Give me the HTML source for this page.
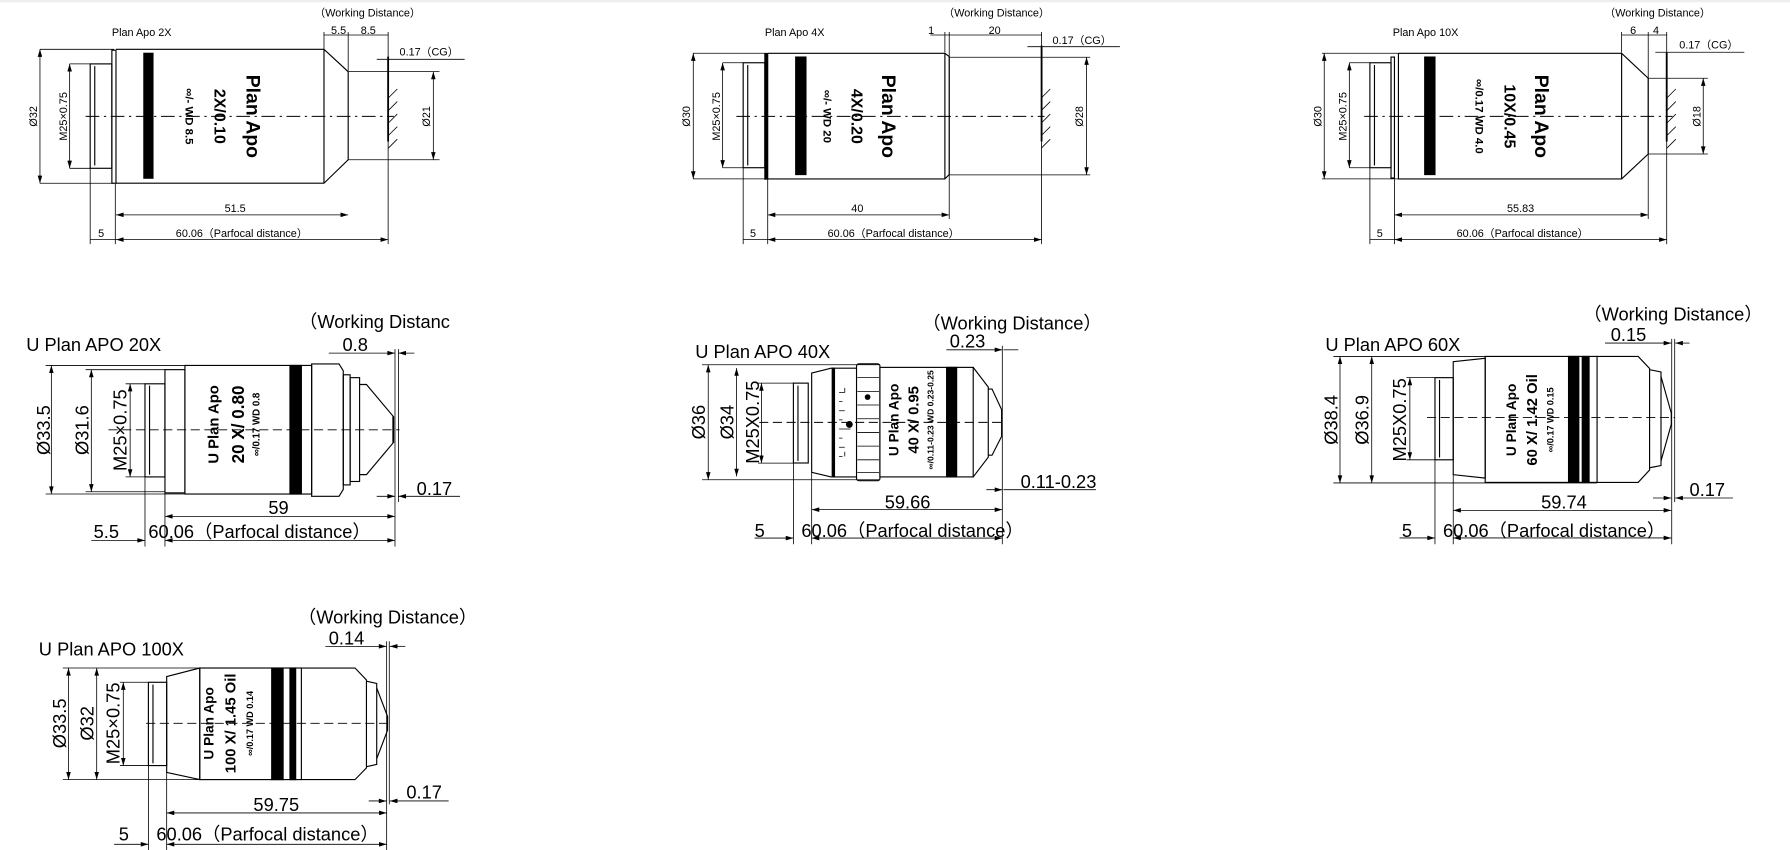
<!DOCTYPE html>
<html><head><meta charset="utf-8"><style>
html,body{margin:0;padding:0;background:#fff;}
svg{display:block;}
text{font-family:"Liberation Sans",Arial,sans-serif;fill:#000;dominant-baseline:central;}
.s{font-size:9.5px;}
.m{font-size:16px;}
.b{font-weight:bold;}
line,polyline,path,rect,polygon{stroke:#000;fill:none;stroke-width:1;}
.thin{stroke-width:0.7;}
.dash{stroke-dasharray:12 4 2 4;stroke-width:0.8;}
.dash2{stroke-dasharray:8 4;stroke-width:0.8;}
.fill{fill:#000;}
.bd{stroke-width:1.6;}
</style></head><body>
<svg width="1790" height="850" viewBox="0 0 1568 745" preserveAspectRatio="none" xmlns="http://www.w3.org/2000/svg">
<defs>
<marker id="a" viewBox="0 0 10 6" refX="10" refY="3" markerWidth="7" markerHeight="4" markerUnits="userSpaceOnUse" orient="auto-start-reverse"><path d="M0,0 L10,3 L0,6 z" style="fill:#000;stroke:none"/></marker>
</defs>
<rect x="0" y="0" width="1568" height="2" style="fill:#eee;stroke:none"/>

<!-- ============ 2X ============ -->
<g>
<text class="s" x="98" y="29">Plan Apo 2X</text>
<text class="s" x="322" y="12" text-anchor="middle">（Working Distance）</text>
<!-- body -->
<rect x="79" y="56" width="19" height="91.5"/>
<line x1="83" y1="58" x2="83" y2="145"/>
<rect x="98" y="44" width="3.6" height="116.6"/>
<polyline points="101.6,43.2 283.8,43.2 305,62.8 305,140 283.8,160.6 101.6,160.6"/>
<line x1="283.8" y1="43.2" x2="283.8" y2="160.6"/>
<rect x="126" y="46.7" width="8" height="109.5" class="fill"/>
<line x1="75" y1="102" x2="345" y2="102" class="dash"/>
<text class="b" font-size="17" transform="translate(221,102) rotate(90)" text-anchor="middle">Plan Apo</text>
<text class="b" font-size="14" transform="translate(192,102) rotate(90)" text-anchor="middle">2X/0.10</text>
<text class="b" font-size="10" transform="translate(165,102) rotate(90)" text-anchor="middle">∞/- WD 8.5</text>
<!-- cover glass -->
<line x1="340" y1="49.6" x2="340" y2="124" class="bd"/>
<path d="M340,86 l8,-8 M340,97 l8,-8 M340,108 l8,-8 M340,119 l8,-8 M340,130 l8,-8" class="thin"/>
<!-- dims -->
<path d="M35,43.2 H100 M35,160.6 H100" class="thin"/>
<line x1="35" y1="43.2" x2="35" y2="160.6" class="thin" marker-start="url(#a)" marker-end="url(#a)"/>
<text class="s" transform="translate(30,102) rotate(-90)" text-anchor="middle">Ø32</text>
<path d="M61,56 H79 M61,147.5 H79" class="thin"/>
<line x1="61" y1="56" x2="61" y2="147.5" class="thin" marker-start="url(#a)" marker-end="url(#a)"/>
<text class="s" transform="translate(56,102) rotate(-90)" text-anchor="middle">M25×0.75</text>
<path d="M305,62.8 H385 M305,140 H385" class="thin"/>
<line x1="379.6" y1="62.8" x2="379.6" y2="140" class="thin" marker-start="url(#a)" marker-end="url(#a)"/>
<text class="s" transform="translate(374,102) rotate(-90)" text-anchor="middle">Ø21</text>
<path d="M283.8,28 V43 M305,28 V62 M340,28 V214 M79,147 V214 M101,161 V214" class="thin"/>
<line x1="283.8" y1="30.7" x2="340" y2="30.7" class="thin"/>
<text class="s" x="290" y="27">5.5</text><text class="s" x="316" y="27">8.5</text>
<line x1="330" y1="52" x2="407" y2="52" class="thin"/>
<text class="s" x="350" y="46">0.17（CG）</text>
<line x1="101.6" y1="188.3" x2="305" y2="188.3" class="thin" marker-start="url(#a)" marker-end="url(#a)"/>
<text class="s" x="206" y="183" text-anchor="middle">51.5</text>
<line x1="101.6" y1="210" x2="340" y2="210" class="thin" marker-start="url(#a)" marker-end="url(#a)"/>
<line x1="79" y1="210" x2="101.6" y2="210" class="thin"/>
<text class="s" x="154" y="205">60.06（Parfocal distance）</text>
<text class="s" x="86" y="205">5</text>
</g>

<!-- ============ 4X ============ -->
<g>
<text class="s" x="670" y="29">Plan Apo 4X</text>
<text class="s" x="873" y="12" text-anchor="middle">（Working Distance）</text>
<rect x="651" y="55" width="19" height="92"/>
<line x1="655" y1="57" x2="655" y2="145"/>
<rect x="670" y="47" width="2.5" height="110" class="fill"/>
<polyline points="672.5,46.7 827.7,46.7 831.5,49.6 831.5,153 827.7,156.8 672.5,156.8"/>
<line x1="827.7" y1="46.7" x2="827.7" y2="156.8"/>
<rect x="697" y="50" width="9" height="103" class="fill"/>
<line x1="645" y1="102" x2="915" y2="102" class="dash"/>
<text class="b" font-size="17" transform="translate(778,102) rotate(90)" text-anchor="middle">Plan Apo</text>
<text class="b" font-size="14" transform="translate(750,102) rotate(90)" text-anchor="middle">4X/0.20</text>
<text class="b" font-size="10" transform="translate(724,102) rotate(90)" text-anchor="middle">∞/- WD 20</text>
<line x1="912.4" y1="40" x2="912.4" y2="124" class="bd"/>
<path d="M912,86 l8,-8 M912,97 l8,-8 M912,108 l8,-8 M912,119 l8,-8 M912,130 l8,-8" class="thin"/>
<path d="M607,46.7 H672 M607,156.8 H672" class="thin"/>
<line x1="607.3" y1="46.7" x2="607.3" y2="156.8" class="thin" marker-start="url(#a)" marker-end="url(#a)"/>
<text class="s" transform="translate(602,102) rotate(-90)" text-anchor="middle">Ø30</text>
<path d="M633,55 H651 M633,147 H651" class="thin"/>
<line x1="633" y1="55" x2="633" y2="147" class="thin" marker-start="url(#a)" marker-end="url(#a)"/>
<text class="s" transform="translate(628,102) rotate(-90)" text-anchor="middle">M25×0.75</text>
<path d="M831.5,50.2 H955 M831.5,153.3 H955" class="thin"/>
<line x1="951.8" y1="50.2" x2="951.8" y2="153.3" class="thin" marker-start="url(#a)" marker-end="url(#a)"/>
<text class="s" transform="translate(946,102) rotate(-90)" text-anchor="middle">Ø28</text>
<path d="M827.7,28 V46 M831.5,28 V192 M912.4,28 V214 M651,147 V214 M672.5,157 V214" class="thin"/>
<line x1="815" y1="30.7" x2="912.4" y2="30.7" class="thin"/>
<text class="s" x="813" y="27">1</text><text class="s" x="866" y="27">20</text>
<line x1="900" y1="40.9" x2="981" y2="40.9" class="thin"/>
<text class="s" x="922" y="36">0.17（CG）</text>
<line x1="672.5" y1="188.3" x2="831.5" y2="188.3" class="thin" marker-start="url(#a)" marker-end="url(#a)"/>
<text class="s" x="751" y="183" text-anchor="middle">40</text>
<line x1="672.5" y1="210" x2="912.4" y2="210" class="thin" marker-start="url(#a)" marker-end="url(#a)"/>
<line x1="651" y1="210" x2="672.5" y2="210" class="thin"/>
<text class="s" x="725" y="205">60.06（Parfocal distance）</text>
<text class="s" x="657" y="205">5</text>
</g>

<!-- ============ 10X ============ -->
<g>
<text class="s" x="1220" y="29">Plan Apo 10X</text>
<text class="s" x="1452" y="12" text-anchor="middle">（Working Distance）</text>
<rect x="1200" y="55" width="18.5" height="92"/>
<line x1="1204" y1="57" x2="1204" y2="145"/>
<rect x="1218.5" y="50" width="3" height="106"/>
<polyline points="1225,46.7 1420.5,46.7 1443.8,68.6 1443.8,135 1420.5,156.8 1225,156.8 1225,46.7"/>
<line x1="1420.5" y1="46.7" x2="1420.5" y2="156.8"/>
<rect x="1248" y="50" width="9" height="103" class="fill"/>
<line x1="1195" y1="102" x2="1465" y2="102" class="dash"/>
<text class="b" font-size="17" transform="translate(1350,102) rotate(90)" text-anchor="middle">Plan Apo</text>
<text class="b" font-size="14" transform="translate(1322,102) rotate(90)" text-anchor="middle">10X/0.45</text>
<text class="b" font-size="10" transform="translate(1295,102) rotate(90)" text-anchor="middle">∞/0.17 WD 4.0</text>
<line x1="1460" y1="46" x2="1460" y2="124" class="bd"/>
<path d="M1460,86 l8,-8 M1460,97 l8,-8 M1460,108 l8,-8 M1460,119 l8,-8 M1460,130 l8,-8" class="thin"/>
<path d="M1158,46.7 H1225 M1158,156.8 H1225" class="thin"/>
<line x1="1160" y1="46.7" x2="1160" y2="156.8" class="thin" marker-start="url(#a)" marker-end="url(#a)"/>
<text class="s" transform="translate(1155,102) rotate(-90)" text-anchor="middle">Ø30</text>
<path d="M1182,55 H1200 M1182,147 H1200" class="thin"/>
<line x1="1182" y1="55" x2="1182" y2="147" class="thin" marker-start="url(#a)" marker-end="url(#a)"/>
<text class="s" transform="translate(1177,102) rotate(-90)" text-anchor="middle">M25×0.75</text>
<path d="M1443.8,68.6 H1496 M1443.8,135 H1496" class="thin"/>
<line x1="1492" y1="68.6" x2="1492" y2="135" class="thin" marker-start="url(#a)" marker-end="url(#a)"/>
<text class="s" transform="translate(1487,102) rotate(-90)" text-anchor="middle">Ø18</text>
<path d="M1420.5,28 V46 M1443.8,28 V192 M1460,28 V214 M1200,147 V214 M1221.5,157 V214" class="thin"/>
<line x1="1420.5" y1="30.7" x2="1460" y2="30.7" class="thin"/>
<text class="s" x="1428" y="27">6</text><text class="s" x="1448" y="27">4</text>
<line x1="1450" y1="45.8" x2="1528" y2="45.8" class="thin"/>
<text class="s" x="1471" y="40">0.17（CG）</text>
<line x1="1221.5" y1="188.3" x2="1443.8" y2="188.3" class="thin" marker-start="url(#a)" marker-end="url(#a)"/>
<text class="s" x="1332" y="183" text-anchor="middle">55.83</text>
<line x1="1221.5" y1="210" x2="1460" y2="210" class="thin" marker-start="url(#a)" marker-end="url(#a)"/>
<line x1="1200" y1="210" x2="1221.5" y2="210" class="thin"/>
<text class="s" x="1276" y="205">60.06（Parfocal distance）</text>
<text class="s" x="1206" y="205">5</text>
</g>

<!-- ============ 20X ============ -->
<g>
<text class="m" x="23" y="302">U Plan APO 20X</text>
<text class="m" x="262" y="282">（Working Distanc</text>
<rect x="127" y="336.4" width="17.5" height="81.6"/>
<line x1="131" y1="338" x2="131" y2="416"/>
<rect x="144.5" y="324" width="17.5" height="108"/>
<rect x="162" y="320.3" width="111" height="112.7"/>
<rect x="254" y="320.3" width="10" height="112.7" class="fill"/>
<path d="M273,319 H297 L300.7,325 V429 L297,435 H273 Z"/>
<rect x="300.7" y="328.5" width="6" height="96.5"/>
<rect x="306.7" y="331" width="8.3" height="91"/>
<polyline points="315,337 321,337 344.5,365 344.5,388 321,416 315,416"/>
<line x1="95" y1="376.7" x2="350" y2="376.7" class="dash2"/>
<text class="b" font-size="13" transform="translate(188,372) rotate(-90)" text-anchor="middle">U Plan Apo</text>
<text class="b" font-size="15" transform="translate(209,372) rotate(-90)" text-anchor="middle">20 X/ 0.80</text>
<text class="b" font-size="8.5" transform="translate(225,372) rotate(-90)" text-anchor="middle">∞/0.17  WD  0.8</text>
<line x1="346" y1="306" x2="346" y2="479" class="thin"/>
<line x1="344.5" y1="365" x2="344.5" y2="388" class="bd"/>
<path d="M40,320.3 H162 M40,433 H162" class="thin"/>
<line x1="45" y1="320.3" x2="45" y2="433" class="thin" marker-start="url(#a)" marker-end="url(#a)"/>
<text class="m" transform="translate(38,377) rotate(-90)" text-anchor="middle">Ø33.5</text>
<path d="M75,324 H145" class="thin"/><path d="M75,431 H145" class="thin"/>
<line x1="80" y1="324" x2="80" y2="431" class="thin" marker-start="url(#a)" marker-end="url(#a)"/>
<text class="m" transform="translate(72,377) rotate(-90)" text-anchor="middle">Ø31.6</text>
<path d="M110,336.4 H127 M110,418 H127" class="thin"/>
<line x1="114" y1="336.4" x2="114" y2="418" class="thin" marker-start="url(#a)" marker-end="url(#a)"/>
<text class="m" transform="translate(105,377) rotate(-90)" text-anchor="middle">M25×0.75</text>
<path d="M127,418 V479 M144.5,432 V479" class="thin"/>
<line x1="288" y1="309.5" x2="346" y2="309.5" class="thin" marker-end="url(#a)"/>
<line x1="363" y1="309.5" x2="349" y2="309.5" class="thin" marker-end="url(#a)"/>
<line x1="349" y1="306" x2="349" y2="440" class="thin"/>
<text class="m" x="300" y="302">0.8</text>
<line x1="330" y1="435" x2="346" y2="435" class="thin" marker-end="url(#a)"/>
<line x1="403" y1="435" x2="349" y2="435" class="thin" marker-end="url(#a)"/>
<text class="m" x="365" y="428">0.17</text>
<line x1="144.5" y1="452.6" x2="346" y2="452.6" class="thin" marker-start="url(#a)" marker-end="url(#a)"/>
<text class="m" x="244" y="445" text-anchor="middle">59</text>
<line x1="144.5" y1="473.6" x2="346" y2="473.6" class="thin" marker-start="url(#a)" marker-end="url(#a)"/>
<line x1="80" y1="473.6" x2="127" y2="473.6" class="thin" marker-end="url(#a)"/>
<text class="m" x="82" y="466">5.5</text>
<text class="m" x="130" y="466">60.06（Parfocal distance）</text>
</g>

<!-- ============ 40X ============ -->
<g>
<text class="m" x="609" y="308">U Plan APO 40X</text>
<text class="m" x="808" y="283">（Working Distance）</text>
<rect x="695" y="335.8" width="13" height="70"/>
<line x1="699" y1="338" x2="699" y2="404"/>
<path d="M711,327 L728,322.7 H730.5 V418 H728 L711,414 Z"/>
<rect x="729" y="322.7" width="2" height="95" class="fill"/>
<path d="M731,322.7 H750.3 M731,418 H750.3" />
<path d="M735,344 h5 M735,352 h3 M735,360 h5 M735,368 h3 M735,376 h10 M735,384 h3 M735,392 h5 M735,400 h3 M740,340 v4 M740,396 v4" class="thin"/>
<circle cx="744" cy="372" r="3"/>
<rect x="750.3" y="318.9" width="20.5" height="102.4" rx="2"/>
<path d="M751,331 h19 M751,343 h19 M751,355 h19 M751,367 h19 M751,379 h19 M751,391 h19 M751,403 h19 M751,414 h19" class="thin"/>
<circle cx="760" cy="348" r="2.5"/>
<rect x="770.8" y="322" width="81.7" height="96"/>
<rect x="829.2" y="322" width="8.8" height="96" class="fill"/>
<polyline points="852.5,322 865.7,339.3 865.7,400.7 852.5,418"/>
<polyline points="865.7,341 869,341 877.4,359 877.4,382.5 869,399 865.7,399"/>
<line x1="665" y1="370.2" x2="880" y2="370.2" class="dash2"/>
<text class="b" font-size="12" transform="translate(783,368) rotate(-90)" text-anchor="middle">U Plan Apo</text>
<text class="b" font-size="13" transform="translate(801,368) rotate(-90)" text-anchor="middle">40 X/ 0.95</text>
<text class="b" font-size="7.5" transform="translate(815,368) rotate(-90)" text-anchor="middle">∞/0.11-0.23 WD 0.23-0.25</text>
<line x1="878" y1="303" x2="878" y2="477" class="thin"/>
<path d="M615,319.7 H771 M615,420.5 H771" class="thin"/>
<line x1="620.4" y1="319.7" x2="620.4" y2="420.5" class="thin" marker-start="url(#a)" marker-end="url(#a)"/>
<text class="m" transform="translate(612,370) rotate(-90)" text-anchor="middle">Ø36</text>
<line x1="645.2" y1="322.7" x2="645.2" y2="417.5" class="thin" marker-start="url(#a)" marker-end="url(#a)"/>
<text class="m" transform="translate(637,370) rotate(-90)" text-anchor="middle">Ø34</text>
<path d="M664,335.8 H695 M664,405.9 H695" class="thin"/>
<line x1="667" y1="335.8" x2="667" y2="405.9" class="thin" marker-start="url(#a)" marker-end="url(#a)"/>
<text class="m" transform="translate(659,370) rotate(-90)" text-anchor="middle">M25X0.75</text>
<path d="M695,406 V477 M711,414 V477" class="thin"/>
<line x1="829" y1="306.6" x2="878" y2="306.6" class="thin" marker-end="url(#a)"/>
<line x1="892" y1="306.6" x2="879" y2="306.6" class="thin"/>
<text class="m" x="832" y="299">0.23</text>
<line x1="864" y1="429.2" x2="878" y2="429.2" class="thin" marker-end="url(#a)"/>
<line x1="960" y1="429.2" x2="879" y2="429.2" class="thin"/>
<text class="m" x="894" y="422">0.11-0.23</text>
<line x1="711" y1="446.7" x2="878" y2="446.7" class="thin" marker-start="url(#a)" marker-end="url(#a)"/>
<text class="m" x="795" y="440" text-anchor="middle">59.66</text>
<line x1="711" y1="471.6" x2="878" y2="471.6" class="thin" marker-start="url(#a)" marker-end="url(#a)"/>
<line x1="661" y1="471.6" x2="695" y2="471.6" class="thin" marker-end="url(#a)"/>
<text class="m" x="661" y="465">5</text>
<text class="m" x="702" y="465">60.06（Parfocal distance）</text>
</g>

<!-- ============ 60X ============ -->
<g>
<text class="m" x="1161" y="302">U Plan APO 60X</text>
<text class="m" x="1387" y="275">（Working Distance）</text>
<rect x="1257" y="331" width="16" height="72"/>
<line x1="1261" y1="333" x2="1261" y2="401"/>
<polygon points="1273,317 1301,314 1301,419 1273,416"/>
<rect x="1301" y="312.4" width="98" height="110.4"/>
<rect x="1374" y="312.4" width="9" height="110.4" class="fill"/>
<rect x="1386" y="312.4" width="6" height="110.4" class="fill"/>
<polyline points="1399,312.4 1435,312.4 1445,323 1445,412 1435,422.8 1399,422.8"/>
<polyline points="1445,324 1455,326 1455,408 1445,410"/>
<polyline points="1455,330 1464,362 1464,372 1455,404"/>
<line x1="1250" y1="366" x2="1467" y2="366" class="dash2"/>
<text class="b" font-size="12" transform="translate(1324,368) rotate(-90)" text-anchor="middle">U Plan Apo</text>
<text class="b" font-size="13" transform="translate(1343,368) rotate(-90)" text-anchor="middle">60 X/ 1.42 Oil</text>
<text class="b" font-size="8" transform="translate(1358,368) rotate(-90)" text-anchor="middle">∞/0.17  WD  0.15</text>
<line x1="1464.4" y1="297" x2="1464.4" y2="477" class="thin"/>
<line x1="1467" y1="297" x2="1467" y2="440" class="thin"/>
<path d="M1168,312.4 H1301 M1168,423.3 H1399" class="thin"/>
<line x1="1173.8" y1="312.4" x2="1173.8" y2="423.3" class="thin" marker-start="url(#a)" marker-end="url(#a)"/>
<text class="m" transform="translate(1166,368) rotate(-90)" text-anchor="middle">Ø38.4</text>
<line x1="1201.6" y1="312.4" x2="1201.6" y2="423.3" class="thin" marker-start="url(#a)" marker-end="url(#a)"/>
<text class="m" transform="translate(1193,368) rotate(-90)" text-anchor="middle">Ø36.9</text>
<path d="M1232,331 H1257 M1232,403 H1257" class="thin"/>
<line x1="1235" y1="331" x2="1235" y2="403" class="thin" marker-start="url(#a)" marker-end="url(#a)"/>
<text class="m" transform="translate(1226,368) rotate(-90)" text-anchor="middle">M25X0.75</text>
<path d="M1257,403 V477 M1273,416 V477" class="thin"/>
<line x1="1406" y1="300.7" x2="1464" y2="300.7" class="thin" marker-end="url(#a)"/>
<line x1="1480" y1="300.7" x2="1467.5" y2="300.7" class="thin" marker-end="url(#a)"/>
<text class="m" x="1411" y="293">0.15</text>
<line x1="1448" y1="436.5" x2="1464" y2="436.5" class="thin" marker-end="url(#a)"/>
<line x1="1518" y1="436.5" x2="1467.5" y2="436.5" class="thin" marker-end="url(#a)"/>
<text class="m" x="1480" y="429">0.17</text>
<line x1="1273" y1="447.3" x2="1464" y2="447.3" class="thin" marker-start="url(#a)" marker-end="url(#a)"/>
<text class="m" x="1370" y="440" text-anchor="middle">59.74</text>
<line x1="1273" y1="471.5" x2="1464" y2="471.5" class="thin" marker-start="url(#a)" marker-end="url(#a)"/>
<line x1="1226" y1="471.5" x2="1257" y2="471.5" class="thin" marker-end="url(#a)"/>
<text class="m" x="1228" y="465">5</text>
<text class="m" x="1264" y="465">60.06（Parfocal distance）</text>
</g>

<!-- ============ 100X ============ -->
<g>
<text class="m" x="34" y="569">U Plan APO 100X</text>
<text class="m" x="261" y="541">（Working Distance）</text>
<rect x="130" y="598" width="16" height="73"/>
<line x1="134" y1="600" x2="134" y2="669"/>
<polygon points="146,593 175,585.5 175,683.3 146,677"/>
<rect x="175" y="585.5" width="89" height="97.8"/>
<rect x="238" y="585.5" width="10" height="97.8" class="fill"/>
<rect x="254" y="585.5" width="5" height="97.8" class="fill"/>
<polyline points="264,585.5 311,585.5 321,596 321,673 311,683.3 264,683.3"/>
<polyline points="321,597 330,599 330,670 321,672"/>
<polyline points="330,603 339.5,628 339.5,640 330,665"/>
<line x1="128" y1="634" x2="343" y2="634" class="dash2"/>
<text class="b" font-size="12" transform="translate(183,634) rotate(-90)" text-anchor="middle">U Plan Apo</text>
<text class="b" font-size="13" transform="translate(203,634) rotate(-90)" text-anchor="middle">100 X/ 1.45 Oil</text>
<text class="b" font-size="8" transform="translate(219,634) rotate(-90)" text-anchor="middle">∞/0.17  WD  0.14</text>
<line x1="338.7" y1="562" x2="338.7" y2="745" class="thin"/>
<line x1="341" y1="562" x2="341" y2="705" class="thin"/>
<path d="M55,585.5 H175 M55,683.3 H264" class="thin"/>
<line x1="60" y1="585.5" x2="60" y2="683.3" class="thin" marker-start="url(#a)" marker-end="url(#a)"/>
<text class="m" transform="translate(52,634) rotate(-90)" text-anchor="middle">Ø33.5</text>
<line x1="84.7" y1="585.5" x2="84.7" y2="683.3" class="thin" marker-start="url(#a)" marker-end="url(#a)"/>
<text class="m" transform="translate(76,634) rotate(-90)" text-anchor="middle">Ø32</text>
<path d="M105,598 H130 M105,671 H130" class="thin"/>
<line x1="108" y1="598" x2="108" y2="671" class="thin" marker-start="url(#a)" marker-end="url(#a)"/>
<text class="m" transform="translate(99,634) rotate(-90)" text-anchor="middle">M25×0.75</text>
<path d="M130,671 V745 M146,677 V745" class="thin"/>
<line x1="285" y1="566.5" x2="338.5" y2="566.5" class="thin" marker-end="url(#a)"/>
<line x1="355" y1="566.5" x2="341.5" y2="566.5" class="thin" marker-end="url(#a)"/>
<text class="m" x="288" y="559">0.14</text>
<line x1="323" y1="702" x2="338.5" y2="702" class="thin" marker-end="url(#a)"/>
<line x1="393" y1="702" x2="341.5" y2="702" class="thin" marker-end="url(#a)"/>
<text class="m" x="356" y="694">0.17</text>
<line x1="146" y1="712.5" x2="338.7" y2="712.5" class="thin" marker-start="url(#a)" marker-end="url(#a)"/>
<text class="m" x="242" y="705" text-anchor="middle">59.75</text>
<line x1="146" y1="740" x2="338.7" y2="740" class="thin" marker-start="url(#a)" marker-end="url(#a)"/>
<line x1="100" y1="740" x2="130" y2="740" class="thin" marker-end="url(#a)"/>
<text class="m" x="104" y="731">5</text>
<text class="m" x="137" y="731">60.06（Parfocal distance）</text>
</g>
</svg>
</body></html>
